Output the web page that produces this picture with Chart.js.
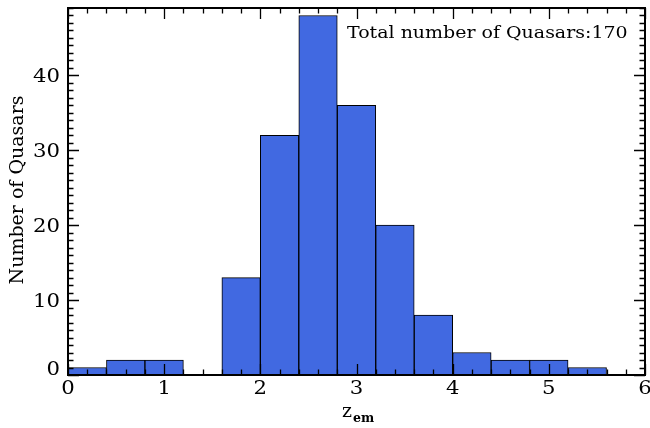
<!DOCTYPE html>
<html>
<head>
<meta charset="utf-8">
<script src="https://cdn.jsdelivr.net/npm/chart.js@4"></script>
<style>
  html, body { margin: 0; padding: 0; background: #ffffff; }
  #wrap { width: 650px; height: 428px; }
</style>
</head>
<body>
<div id="wrap"><canvas id="c" width="650" height="428"></canvas></div>
<script>
// Histogram of quasar emission redshifts, bins of width 0.4
const binEdges = [0, 0.4, 0.8, 1.2, 1.6, 2.0, 2.4, 2.8, 3.2, 3.6, 4.0, 4.4, 4.8, 5.2, 5.6];
const counts   = [1, 2, 2, 0, 13, 32, 48, 36, 20, 8, 3, 2, 2, 1];
const xTickValues = [0, 1, 2, 3, 4, 5, 6];
const xTickLabels = ['0', '1', '2', '3', '4', '5', '6'];
const yTickValues = [0, 10, 20, 30, 40];
const yTickLabels = ['0', '10', '20', '30', '40'];
const annotationText = 'Total number of Quasars:170';
const yTitle = 'Number of Quasars';
const xTitleMain = 'z';
const xTitleSub = 'em';

const bars = counts.map((n, i) => ({ x: (binEdges[i] + binEdges[i + 1]) / 2, y: n }));

const FONT = '"DejaVu Serif", "Liberation Serif", serif';

// draw text with a horizontal stretch factor, anchored at (x, y)
function wideText(ctx, text, x, y, sx, align) {
  ctx.save();
  ctx.translate(x, y);
  ctx.scale(sx, 1);
  ctx.textAlign = align;
  ctx.fillText(text, 0, 0);
  ctx.restore();
}

// Frame, inward ticks on all four sides, labels and titles
const framePlugin = {
  id: 'frame',
  afterDatasetsDraw(chart) {
    const { ctx, chartArea: a, scales: { x, y } } = chart;
    ctx.save();
    ctx.strokeStyle = '#000';

    // minor / major ticks
    ctx.lineWidth = 1.3;
    ctx.beginPath();
    for (let k = 0; k <= 30; k++) {
      const v = k * 0.2;
      const px = Math.round(x.getPixelForValue(v)) + 0.5;
      const len = (k % 5 === 0) ? 11 : 5.5;
      ctx.moveTo(px, a.bottom); ctx.lineTo(px, a.bottom - len);
      ctx.moveTo(px, a.top);    ctx.lineTo(px, a.top + len);
    }
    for (let v = 0; v <= 49; v++) {
      const py = Math.round(y.getPixelForValue(v)) + 0.5;
      const len = (v % 10 === 0) ? 11 : 5.5;
      ctx.moveTo(a.left, py);  ctx.lineTo(a.left + len, py);
      ctx.moveTo(a.right, py); ctx.lineTo(a.right - len, py);
    }
    ctx.stroke();

    // frame
    ctx.lineWidth = 2;
    ctx.strokeRect(a.left, a.top, a.right - a.left, a.bottom - a.top);

    ctx.fillStyle = '#000';
    // x tick labels
    ctx.font = '18px ' + FONT;
    ctx.textBaseline = 'middle';
    xTickValues.forEach((v, i) => {
      wideText(ctx, xTickLabels[i], x.getPixelForValue(v), a.bottom + 14, 1.18, 'center');
    });
    // y tick labels
    yTickValues.forEach((v, i) => {
      const off = i === 0 ? -5 : 2;
      wideText(ctx, yTickLabels[i], a.left - 8, y.getPixelForValue(v) + off, 1.18, 'right');
    });

    // annotation
    ctx.font = '16.5px ' + FONT;
    ctx.textBaseline = 'alphabetic';
    wideText(ctx, annotationText, 347, 38, 1.15, 'left');

    // x title with subscript
    ctx.font = '18px ' + FONT;
    wideText(ctx, xTitleMain, 342, 417, 1.05, 'left');
    const zw = ctx.measureText(xTitleMain).width * 1.05;
    ctx.font = 'bold 12.5px ' + FONT;
    wideText(ctx, xTitleSub, 342 + zw + 1, 422, 1.0, 'left');

    // y title
    ctx.save();
    ctx.translate(23, 190);
    ctx.rotate(-Math.PI / 2);
    ctx.font = '19px ' + FONT;
    ctx.textAlign = 'center';
    ctx.textBaseline = 'alphabetic';
    ctx.fillText(yTitle, 0, 0);
    ctx.restore();

    ctx.restore();
  }
};

new Chart(document.getElementById('c'), {
  type: 'bar',
  data: {
    datasets: [{
      data: bars,
      backgroundColor: '#4169E1',
      borderColor: '#000000',
      borderWidth: 1,
      borderSkipped: false,
      barPercentage: 1,
      categoryPercentage: 1,
      grouped: false
    }]
  },
  options: {
    responsive: false,
    animation: false,
    devicePixelRatio: 1,
    layout: { padding: { left: 68, right: 5, top: 8, bottom: 53 } },
    plugins: { legend: { display: false }, tooltip: { enabled: false } },
    scales: {
      x: {
        type: 'linear', min: 0, max: 6, offset: false,
        grid: { display: false }, border: { display: false },
        ticks: { display: false },
        afterFit: (s) => { s.height = 0; }
      },
      y: {
        type: 'linear', min: 0, max: 49,
        grid: { display: false }, border: { display: false },
        ticks: { display: false },
        afterFit: (s) => { s.width = 0; }
      }
    }
  },
  plugins: [framePlugin]
});
</script>
</body>
</html>
